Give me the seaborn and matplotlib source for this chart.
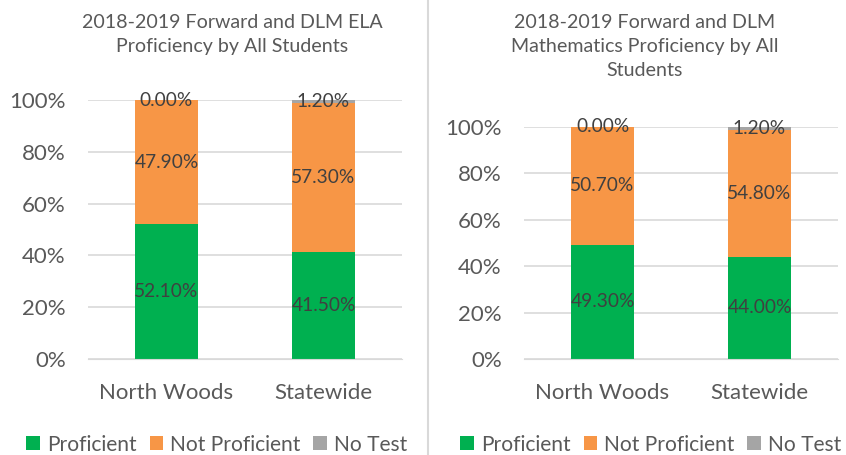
import numpy as np
import pandas as pd
import matplotlib.pyplot as plt
import seaborn as sns

schools = ['North Woods', 'Statewide']
series = ['Proficient', 'Not Proficient', 'No Test']
ela_proficient = [52.1, 41.5]
ela_not_proficient = [47.9, 57.3]
ela_no_test = [0.0, 1.2]
math_proficient = [49.3, 44.0]
math_not_proficient = [50.7, 54.8]
math_no_test = [0.0, 1.2]
titles = ['2018-2019 Forward and DLM ELA\nProficiency by All Students',
          '2018-2019 Forward and DLM\nMathematics Proficiency by All\nStudents']
colors = ['#00B050', '#F79646', '#A5A5A5']
text_color = '#595959'

sns.set_style('white')
plt.rcParams['font.family'] = ['Lato', 'DejaVu Sans']

fig = plt.figure(figsize=(8.46, 4.55), dpi=100)
W, H = 846, 455
panels = [
    (88, 100, ela_proficient, ela_not_proficient, ela_no_test, titles[0], 232, 217),
    (524, 127, math_proficient, math_not_proficient, math_no_test, titles[1], 645, 651),
]

for left, top, prof, notp, nt, title, tx, lx in panels:
    ax = fig.add_axes([left / W, (H - 359) / H, 314 / W, (359 - top) / H])
    df = pd.DataFrame({'School': schools, 'Proficient': prof,
                       'Not Proficient': notp, 'No Test': nt})
    bottom = np.zeros(len(schools))
    for name, col in zip(series, colors):
        vals = df[name].values
        sns.barplot(x=df['School'], y=vals, bottom=bottom, color=col,
                    width=0.4, saturation=1, ax=ax, label=name, linewidth=0)
        for i, v in enumerate(vals):
            ax.text(i, bottom[i] + v / 2, f'{v:.2f}%', ha='center',
                    va='center', fontsize=13.8, color='#404040')
        bottom = bottom + vals
    ax.set_ylim(0, 100)
    ax.set_xlim(-0.5, 1.5)
    ax.set_yticks(range(0, 101, 20))
    ax.set_yticklabels([f'{t}%' for t in range(0, 101, 20)])
    ax.yaxis.grid(True, color='#D9D9D9', linewidth=1.2)
    ax.set_axisbelow(True)
    for s in ax.spines.values():
        s.set_visible(False)
    ax.spines['bottom'].set_visible(True)
    ax.spines['bottom'].set_color('#D9D9D9')
    ax.tick_params(axis='both', length=0, labelsize=16, colors=text_color)
    ax.tick_params(axis='y', pad=16)
    ax.tick_params(axis='x', pad=17)
    ax.set_xlabel('')
    ax.set_ylabel('')
    fig.text(tx / W, 1 - 14 / H, title, ha='center', va='top',
             fontsize=14.1, color=text_color, linespacing=1.5)
    ax.legend(loc='lower center', ncol=3, frameon=False, fontsize=15.1,
              handlelength=0.65, handleheight=0.65, handletextpad=0.35,
              columnspacing=0.6, labelcolor=text_color,
              bbox_to_anchor=(lx / W, -10 / H), bbox_transform=fig.transFigure,
              borderpad=0)

fig.add_artist(plt.Line2D([428 / W, 428 / W], [0, 1], color='#D9D9D9',
                          linewidth=1.5, transform=fig.transFigure))
fig.savefig('out.png', dpi=100)
